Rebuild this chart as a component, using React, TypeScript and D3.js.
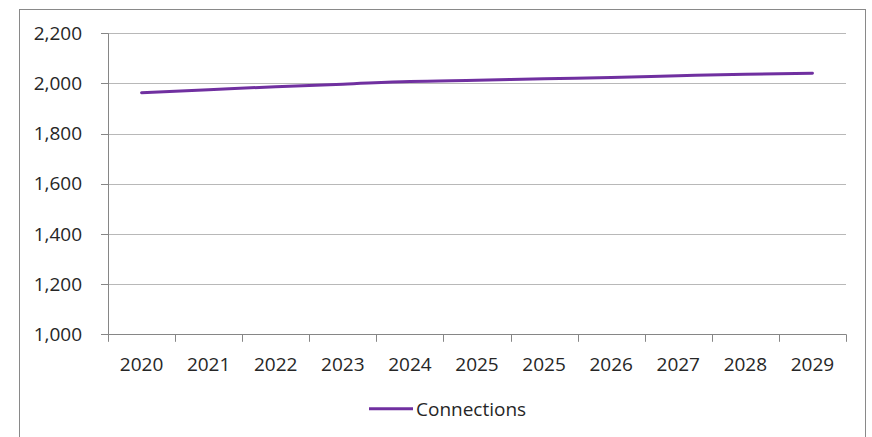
import React from "react";
import * as d3 from "d3";

const categories = ["2020", "2021", "2022", "2023", "2024", "2025", "2025", "2026", "2027", "2028", "2029"];
const connections = [1963, 1975, 1987, 1997, 2008, 2013, 2019, 2024, 2031, 2037, 2041];
const yTicks = [1000, 1200, 1400, 1600, 1800, 2000, 2200];
const seriesName = "Connections";

const W = 872;
const H = 437;
const plot = { left: 108, right: 846, top: 33.3, bottom: 334.3 };
const font = "'Open Sans', 'Liberation Sans', sans-serif";
const textColor = "#262626";
const lineColor = "#7030A0";

export default function App() {
  const idx = categories.map((_, i) => i);
  const x = d3.scaleBand<number>().domain(idx).range([plot.left, plot.right]).paddingInner(0).paddingOuter(0);
  const y = d3.scaleLinear().domain([1000, 2200]).range([plot.bottom, plot.top]);
  const fmt = d3.format(",");
  const line = d3
    .line<number>()
    .x((_, i) => (x(i) as number) + x.bandwidth() / 2)
    .y((d) => y(d))
    .curve(d3.curveMonotoneX);

  const boundaries = d3.range(categories.length + 1).map((i) => plot.left + i * x.bandwidth());

  return (
    <svg width={W} height={H} style={{ position: "absolute", left: 0, top: 0, background: "#fff" }} fontFamily={font}>
      <rect x={19.5} y={9.5} width={846} height={440} fill="#fff" stroke="#898989" strokeWidth={1} />
      {yTicks.map((t) => (
        <g key={t}>
          {t !== 1000 && (
            <line x1={plot.left} x2={plot.right} y1={Math.round(y(t)) + 0.5} y2={Math.round(y(t)) + 0.5} stroke="#b8b8b8" strokeWidth={1} />
          )}
          <line x1={101} x2={plot.left} y1={Math.round(y(t)) + 0.5} y2={Math.round(y(t)) + 0.5} stroke="#868686" strokeWidth={1} />
          <text x={82} y={y(t)} dy="0.35em" textAnchor="end" fontSize={19} fill={textColor}>
            {fmt(t)}
          </text>
        </g>
      ))}
      {/* axes */}
      <line x1={plot.left + 0.5} x2={plot.left + 0.5} y1={plot.top} y2={plot.bottom} stroke="#868686" strokeWidth={1} />
      <line x1={plot.left} x2={plot.right} y1={Math.round(plot.bottom) + 0.5} y2={Math.round(plot.bottom) + 0.5} stroke="#868686" strokeWidth={1} />
      {boundaries.map((b, i) => (
        <line key={i} x1={Math.round(b) + 0.5} x2={Math.round(b) + 0.5} y1={plot.bottom} y2={plot.bottom + 7.5} stroke="#868686" strokeWidth={1} />
      ))}
      {categories.map((c, i) => (
        <text key={i} x={(x(i) as number) + x.bandwidth() / 2} y={370.5} textAnchor="middle" fontSize={19} fill={textColor}>
          {c}
        </text>
      ))}
      <path d={line(connections) || ""} fill="none" stroke={lineColor} strokeWidth={3} strokeLinecap="round" />
      {/* legend */}
      <line x1={369} x2={413} y1={408.7} y2={408.7} stroke={lineColor} strokeWidth={3} />
      <text x={416} y={415.5} fontSize={19} fill={textColor}>
        {seriesName}
      </text>
    </svg>
  );
}
